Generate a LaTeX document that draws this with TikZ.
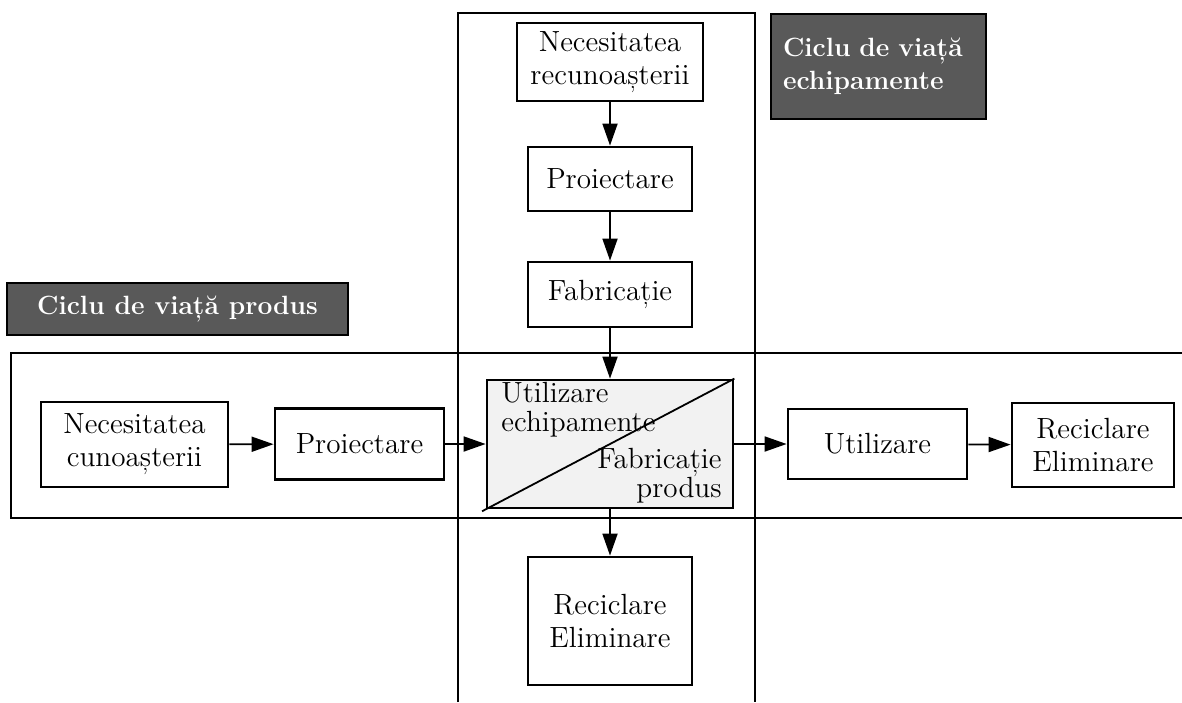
\documentclass[tikz,border=0pt]{standalone}
\usepackage{fontspec}
\usetikzlibrary{arrows.meta}
\definecolor{hdr}{HTML}{595959}
\definecolor{lite}{HTML}{F2F2F2}
\begin{document}
\begin{tikzpicture}[x=0.5pt,y=-0.5pt,
  font=\fontsize{14.6}{16.5}\selectfont,
  stepbox/.style={draw=black,line width=1.4pt,fill=white,inner sep=0pt,align=center},
  hdrbox/.style={draw=black,line width=1.2pt,fill=hdr,text=white,inner sep=0pt,
    font=\fontsize{13.2}{16.5}\selectfont\bfseries},
  frame/.style={line width=0.75pt},
  conn/.style={line width=0.9pt,-{Triangle[length=11pt,width=7.5pt]}},
  lbl/.style={inner sep=0pt}]
\useasboundingbox (0,0) rectangle (1182,702);
% frames
\draw[frame] (458,702) -- (458,13) -- (755,13) -- (755,702);
\draw[frame] (1182,353) -- (11,353) -- (11,518) -- (1182,518);
% headings
\node[hdrbox,minimum width=170.5pt,minimum height=26pt] (hp) at (177.5,309) {Ciclu de viață produs};
\node[hdrbox,minimum width=107.5pt,minimum height=52.5pt,inner xsep=6pt,text width=95.5pt,align=left] (he) at (878.5,66.5) {Ciclu de viață\\echipamente};
% vertical chain
\node[stepbox,minimum width=93pt,minimum height=39pt] (nr) at (610,62) {Necesitatea\\recunoașterii};
\node[stepbox,minimum width=82pt,minimum height=32pt] (p1) at (610,179) {Proiectare};
\node[stepbox,minimum width=82pt,minimum height=32.5pt] (f1) at (610,294.5) {Fabricație};
\node[stepbox,fill=lite,minimum width=123pt,minimum height=64pt] (c) at (610,444) {};
\node[stepbox,minimum width=82pt,minimum height=64pt] (r1) at (610,621) {Reciclare\\Eliminare};
% horizontal chain
\node[stepbox,minimum width=93.5pt,minimum height=42.5pt] (nc) at (134.5,444.5) {Necesitatea\\cunoașterii};
\node[stepbox,minimum width=84.5pt,minimum height=35.5pt] (p2) at (359.5,444) {Proiectare};
\node[stepbox,minimum width=89.5pt,minimum height=35pt] (u) at (877.5,444) {Utilizare};
\node[stepbox,minimum width=81pt,minimum height=42pt] (r2) at (1093,445) {Reciclare\\Eliminare};
% center box contents
\draw[line width=0.9pt,shorten <=-2pt] (c.south west) -- (c.north east);
\node[lbl,anchor=base west] (ue1) at (501,402) {Utilizare};
\node[lbl,anchor=base west] (ue2) at (501,431) {echipamente};
\node[lbl,anchor=base east] (fp1) at (722,468) {Fabricație};
\node[lbl,anchor=base east] (fp2) at (722,497) {produs};
% connectors
\draw[conn] (nr) -- (p1);
\draw[conn] (p1) -- (f1);
\draw[conn] (f1) -- (c);
\draw[conn] (c) -- (r1);
\draw[conn] (nc) -- (p2);
\draw[conn] (p2) -- (c);
\draw[conn] (c) -- (u);
\draw[conn] (u) -- (r2);
\end{tikzpicture}
\end{document}
